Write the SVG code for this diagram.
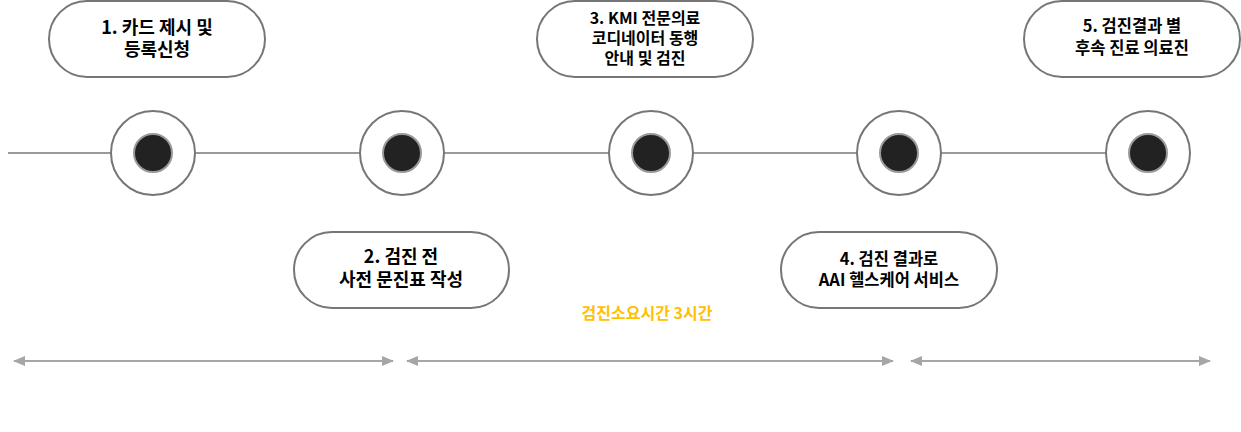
<svg xmlns="http://www.w3.org/2000/svg" width="1241" height="432" viewBox="0 0 1241 432">
<defs>
<style>
.box{fill:#fff;stroke:#767676;stroke-width:2}
.t{font-family:"Noto Sans CJK KR","Liberation Sans",sans-serif;font-weight:bold;fill:#000;text-anchor:middle}
.outer{fill:#fff;stroke:#767676;stroke-width:2}
.inner{fill:#222;stroke:#9a9a9a;stroke-width:2}
.line{stroke:#9a9a9a;stroke-width:2;fill:none}
.arr{stroke:#a6a6a6;stroke-width:2;fill:none}
</style>
<marker id="ah" viewBox="0 0 12 10" refX="11" refY="5" markerWidth="12" markerHeight="10" markerUnits="userSpaceOnUse" orient="auto-start-reverse">
<path d="M0,0 L12,5 L0,10 Z" fill="#a6a6a6"/>
</marker>
</defs>
<rect width="1241" height="432" fill="#fff"/>
<g id="connectors">
<line class="line" x1="8" y1="153" x2="1106" y2="153"/>
<line class="arr" x1="14" y1="361" x2="393" y2="361" marker-start="url(#ah)" marker-end="url(#ah)"/>
<line class="arr" x1="407" y1="361" x2="893" y2="361" marker-start="url(#ah)" marker-end="url(#ah)"/>
<line class="arr" x1="911" y1="361" x2="1210" y2="361" marker-start="url(#ah)" marker-end="url(#ah)"/>
</g>
<g id="dot1"><circle class="outer" cx="153" cy="153" r="42"/><circle class="inner" cx="153" cy="153" r="19"/></g>
<g id="dot2"><circle class="outer" cx="402" cy="153" r="42"/><circle class="inner" cx="402" cy="153" r="19"/></g>
<g id="dot3"><circle class="outer" cx="651" cy="153" r="42"/><circle class="inner" cx="651" cy="153" r="19"/></g>
<g id="dot4"><circle class="outer" cx="899" cy="153" r="42"/><circle class="inner" cx="899" cy="153" r="19"/></g>
<g id="dot5"><circle class="outer" cx="1148" cy="153" r="42"/><circle class="inner" cx="1148" cy="153" r="19"/></g>
<g id="step1"><rect class="box" x="49" y="1" width="216" height="76" rx="38"/>
<text class="t" font-size="18"><tspan x="157" y="34">1. 카드 제시 및</tspan><tspan x="157" y="56">등록신청</tspan></text></g>
<g id="step2"><rect class="box" x="294" y="232" width="215" height="76" rx="38"/>
<text class="t" font-size="18"><tspan x="401" y="263">2. 검진 전</tspan><tspan x="401" y="286">사전 문진표 작성</tspan></text></g>
<g id="step3"><rect class="box" x="537" y="1" width="216" height="76" rx="38"/>
<text class="t" font-size="16"><tspan x="645" y="24">3. KMI 전문의료</tspan><tspan x="645" y="44">코디네이터 동행</tspan><tspan x="645" y="64">안내 및 검진</tspan></text></g>
<g id="step4"><rect class="box" x="781" y="232" width="216" height="76" rx="38"/>
<text class="t" font-size="16.5"><tspan x="889" y="265">4. 검진 결과로</tspan><tspan x="889" y="286">AAI 헬스케어 서비스</tspan></text></g>
<g id="step5"><rect class="box" x="1024" y="1" width="216" height="76" rx="38"/>
<text class="t" font-size="16.5"><tspan x="1132" y="32">5. 검진결과 별</tspan><tspan x="1132" y="54">후속 진료 의료진</tspan></text></g>
<text class="t" font-size="16" x="647" y="319" style="fill:#ffc000">검진소요시간 3시간</text>
</svg>
